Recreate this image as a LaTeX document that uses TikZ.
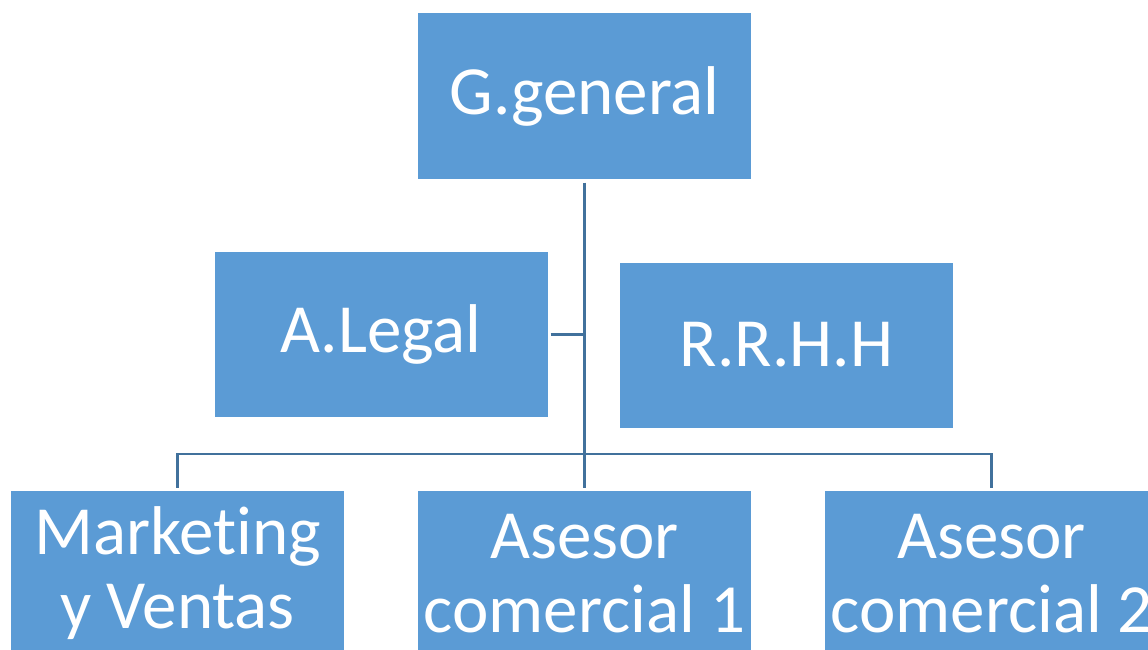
\documentclass[tikz,border=0pt]{standalone}
\usepackage{fontspec}
\setmainfont[Ligatures=NoCommon]{Carlito}
\definecolor{boxblue}{HTML}{5B9BD5}
\definecolor{linkblue}{HTML}{41719C}
\tikzset{
  unit/.style={fill=boxblue, draw=none, minimum width=333pt, minimum height=165pt,
    inner sep=0pt, text=white, align=center,
    font=\fontsize{69}{74}\selectfont},
  conn/.style={draw=linkblue, line width=2.6pt}
}
\begin{document}
\begin{tikzpicture}[x=1pt,y=-1pt]
  \useasboundingbox (0,0) rectangle (1148,650);
  \clip (0,0) rectangle (1148,650);
  % top level
  \node[unit] (gg) at (584.5,96) {G.general};
  % staff units
  \node[unit] (legal) at (381,334.5) {A.Legal};
  \node[unit] (rrhh) at (786.5,345) {R.R.H.H};
  % operational units
  \node[unit] (mkt) at (177.5,573.5) {Marketing\\y Ventas};
  \node[unit] (ac1) at (584.5,573.5) {Asesor\\comercial 1};
  \node[unit] (ac2) at (991.5,573.5) {Asesor\\comercial 2};
  % connectors
  \coordinate (bus) at (584.5,454);
  \draw[conn] ([yshift=-4pt]gg.south) -- ([yshift=3pt]ac1.north);
  \draw[conn] ([yshift=3pt]mkt.north) |- (bus) -| ([yshift=3pt]ac2.north);
  \draw[conn] ([xshift=3pt]legal.east) -- (legal.east -| gg.south);
\end{tikzpicture}
\end{document}
